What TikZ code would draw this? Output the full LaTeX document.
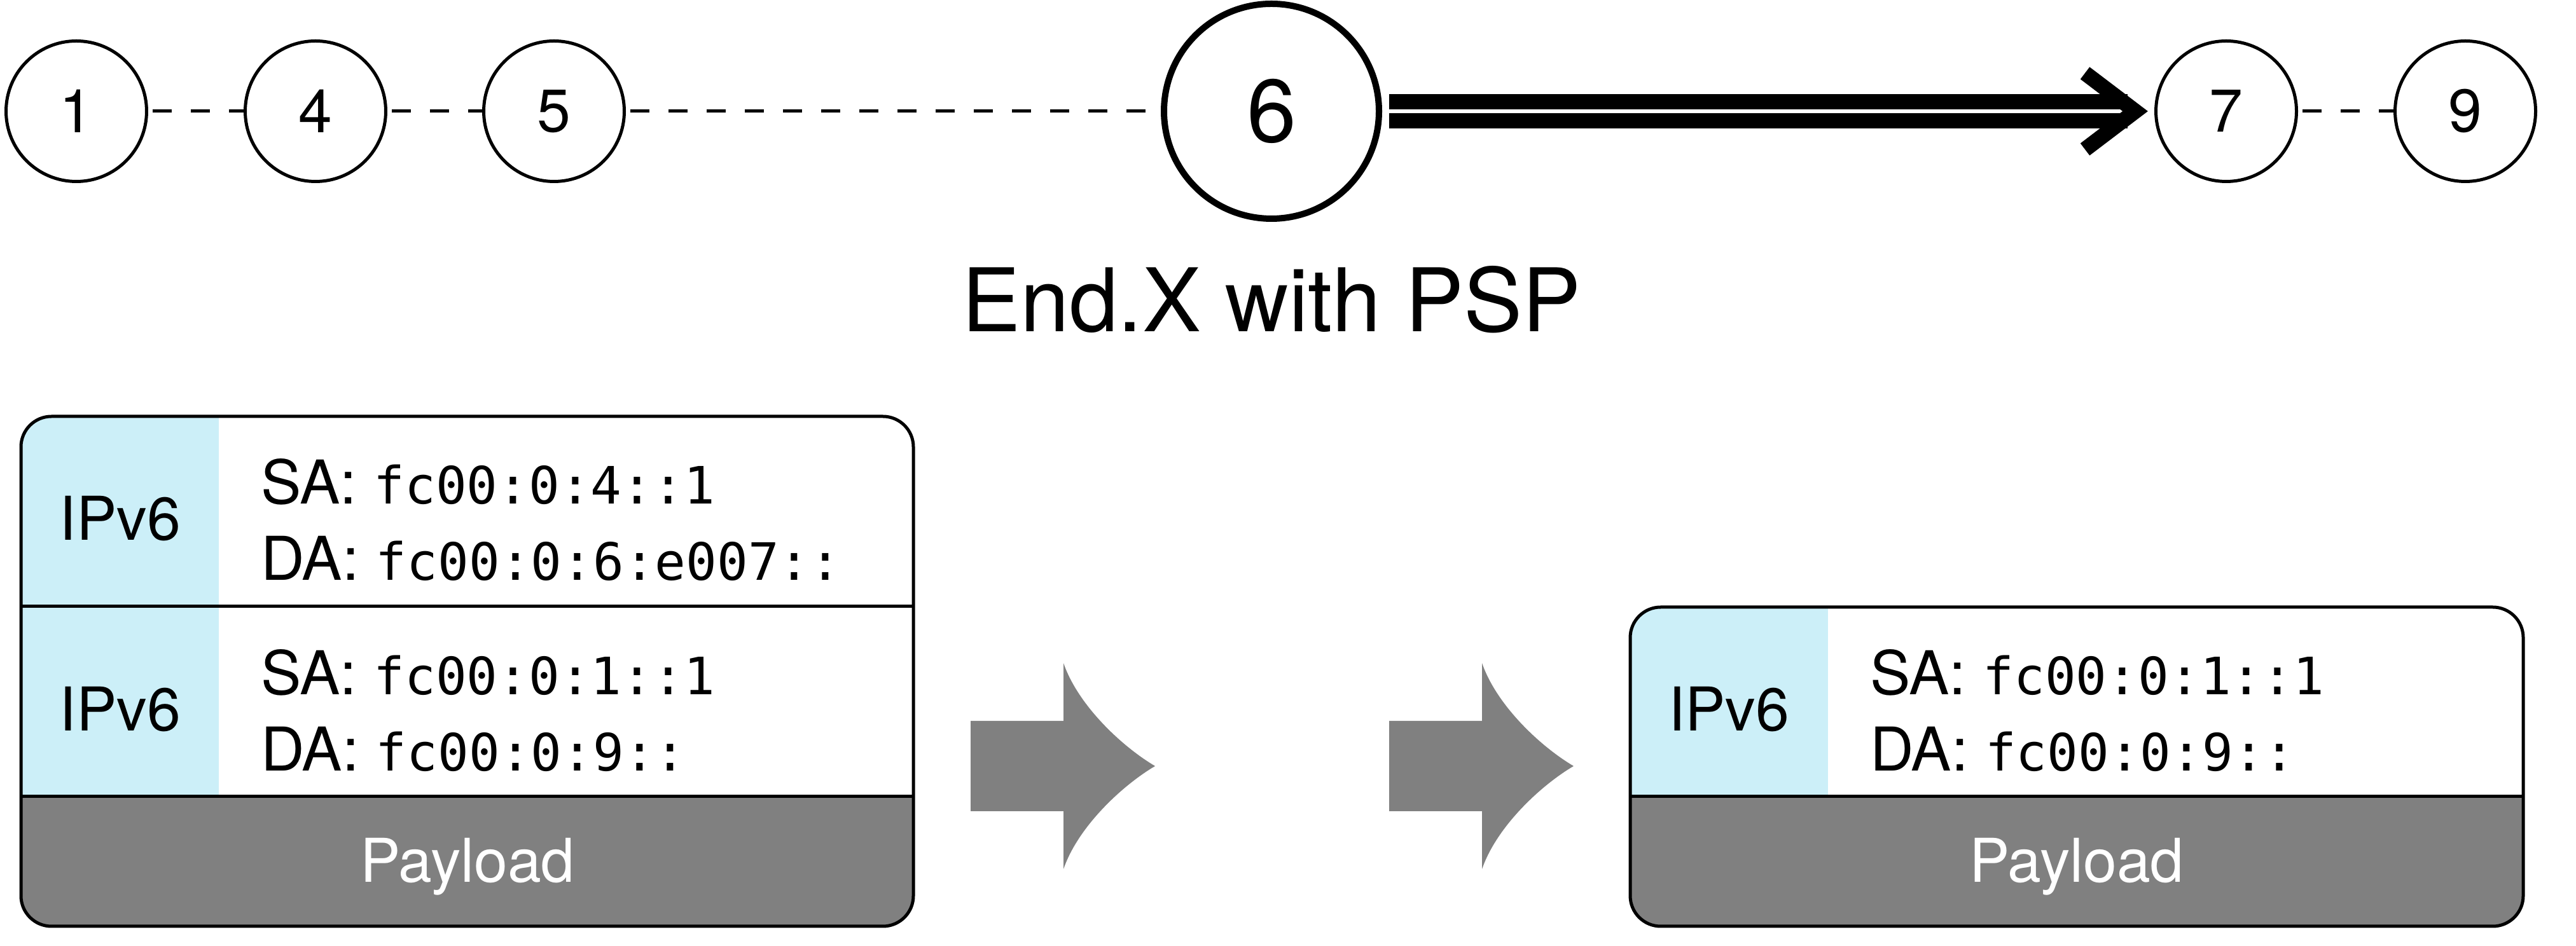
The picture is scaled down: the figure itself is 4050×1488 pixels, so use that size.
\documentclass[tikz,border=0pt]{standalone}
\usepackage{fontspec}
\setmainfont{TeX Gyre Heros}
\newfontfamily\addrfont{DejaVu Sans Mono}
\usetikzlibrary{backgrounds}
\definecolor{hdrblue}{RGB}{204,239,248}
\definecolor{paygray}{RGB}{128,128,128}
\tikzset{
  hop/.style={circle, draw, line width=0.5pt, fill=white, inner sep=0pt,
    minimum size=22.1pt, font=\fontsize{9.5pt}{11pt}\selectfont},
  pspnode/.style={circle, draw, line width=1pt, fill=white, inner sep=0pt,
    minimum size=33.8pt, font=\fontsize{14pt}{16pt}\selectfont},
  hoplink/.style={line width=0.5pt, dash pattern=on 3pt off 3pt},
  dblshaft/.style={line width=2.4pt, double=white, double distance=0.6pt,
    shorten <=1.1pt, shorten >=4.2pt},
  chevron/.style={line width=2.4pt, line join=miter, line cap=butt},
  lbl/.style={inner sep=0pt, font=\fontsize{9.5pt}{11pt}\selectfont},
  addr/.style={lbl, anchor=base west},
  paytext/.style={lbl, anchor=base, text=white},
  boxline/.style={line width=0.5pt},
  bigarrow/.style={fill=paygray},
}
\newcommand{\ad}[1]{{\addrfont\fontsize{8.1pt}{10pt}\selectfont #1}}
\begin{document}
\begin{tikzpicture}[x=0.1pt,y=-0.1pt]
\useasboundingbox (0,0) rectangle (4050,1488);

% top path
\node[hop] (n1) at (120,175) {1};
\node[hop] (n4) at (496,175) {4};
\node[hop] (n5) at (871,175) {5};
\node[pspnode] (n6) at (1999,175) {6};
\node[hop] (n7) at (3500,175) {7};
\node[hop] (n9) at (3876,175) {9};

\begin{scope}[on background layer]
  \draw[hoplink] (n1.center) -- (n4.center);
  \draw[hoplink] (n4.center) -- (n5.center);
  \draw[hoplink] (n5.center) -- (n6.center);
  \draw[hoplink] (n7.center) -- (n9.center);
\end{scope}

\draw[dblshaft] (n6) -- (n7);
\draw[chevron] ([shift={(-109,-60)}]n7.west) -- ([shift={(-30,0)}]n7.west)
  -- ([shift={(-109,60)}]n7.west);

\node[inner sep=0pt, anchor=base, font=\fontsize{13.8pt}{16pt}\selectfont]
  (title) at (1999,522) {End.X with PSP};

% left packet
\begin{scope}
  \clip[rounded corners=4.8pt] (33,655) rectangle (1436,1457);
  \fill[white] (33,655) rectangle (1436,1253);
  \fill[hdrblue] (33,655) rectangle (344,1253);
  \fill[paygray] (33,1253) rectangle (1436,1457);
\end{scope}
\draw[boxline, rounded corners=4.8pt] (33,655) rectangle (1436,1457);
\draw[boxline] (33,954) -- (1436,954);
\draw[boxline] (33,1253) -- (1436,1253);

\node[lbl, anchor=base] (lh1) at (189,850) {IPv6};
\node[addr] (lsa1) at (408,793) {SA: \ad{fc00:0:4::1}};
\node[addr] (lda1) at (408,913) {DA: \ad{fc00:0:6:e007::}};
\node[lbl, anchor=base] (lh2) at (189,1150) {IPv6};
\node[addr] (lsa2) at (408,1093) {SA: \ad{fc00:0:1::1}};
\node[addr] (lda2) at (408,1213) {DA: \ad{fc00:0:9::}};
\node[paytext] (lpay) at (735,1388) {Payload};

% gray arrows
\foreach \dx in {0,658}{
  \begin{scope}[shift={(\dx,0)}]
    \fill[bigarrow] (1526,1134) -- (1672,1134) -- (1672,1043)
      .. controls (1695,1110) and (1765,1175) .. (1816,1205)
      .. controls (1765,1235) and (1695,1300) .. (1672,1367)
      -- (1672,1276) -- (1526,1276) -- cycle;
  \end{scope}
}

% right packet
\begin{scope}
  \clip[rounded corners=4.8pt] (2563,955) rectangle (3967,1457);
  \fill[white] (2563,955) rectangle (3967,1253);
  \fill[hdrblue] (2563,955) rectangle (2874,1253);
  \fill[paygray] (2563,1253) rectangle (3967,1457);
\end{scope}
\draw[boxline, rounded corners=4.8pt] (2563,955) rectangle (3967,1457);
\draw[boxline] (2563,1253) -- (3967,1253);

\node[lbl, anchor=base] (rh1) at (2718,1150) {IPv6};
\node[addr] (rsa1) at (2938,1093) {SA: \ad{fc00:0:1::1}};
\node[addr] (rda1) at (2938,1213) {DA: \ad{fc00:0:9::}};
\node[paytext] (rpay) at (3265,1388) {Payload};
\end{tikzpicture}
\end{document}
